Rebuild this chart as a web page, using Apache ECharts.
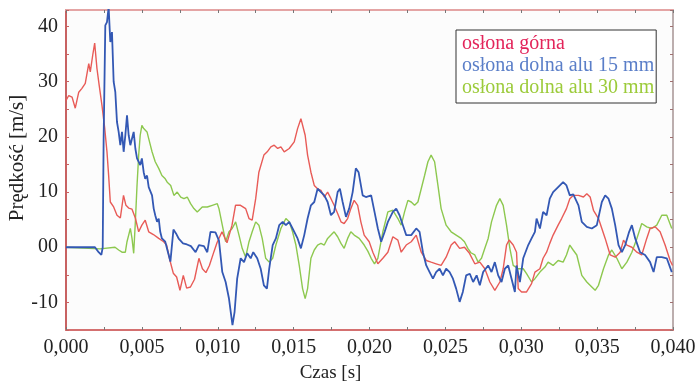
<!DOCTYPE html>
<html><head><meta charset="utf-8">
<script src="https://cdn.jsdelivr.net/npm/echarts@6/dist/echarts.min.js"></script>
<style>html,body{margin:0;padding:0;background:#fff}#c{width:698px;height:384px}</style>
</head><body><div id="c"></div>
<script>
const seriesNames = ['osłona górna', 'osłona dolna alu 15 mm', 'osłona dolna alu 30 mm'];
const yTickLabels = ['-10', '00', '10', '20', '30', '40'];

const redT = [0,0.00018,0.0004,0.00061,0.00084,0.00105,0.00127,0.0015,0.0016,0.00176,0.00189,0.00204,0.00219,0.00237,0.00255,0.0027,0.00281,0.00292,0.00314,0.00336,0.00358,0.00379,0.00395,0.00413,0.00435,0.00457,0.00479,0.005,0.00522,0.00545,0.00576,0.00611,0.00644,0.00663,0.00685,0.00707,0.00729,0.00751,0.00773,0.00795,0.0082,0.00847,0.00876,0.00899,0.00922,0.00945,0.00975,0.00995,0.01028,0.01061,0.01094,0.01117,0.0115,0.01184,0.01206,0.01227,0.0125,0.01271,0.01304,0.01326,0.0135,0.01372,0.01395,0.01416,0.01438,0.01471,0.01504,0.01526,0.01548,0.01559,0.01576,0.01592,0.01614,0.01636,0.01658,0.0168,0.01702,0.01724,0.01746,0.01767,0.0179,0.01812,0.01833,0.01856,0.01877,0.01899,0.01922,0.01943,0.01965,0.01998,0.02022,0.02055,0.02088,0.02121,0.02154,0.02187,0.02209,0.02242,0.02275,0.02308,0.02341,0.02374,0.02406,0.02439,0.02472,0.02505,0.02538,0.02561,0.02594,0.02626,0.02659,0.02694,0.02727,0.0276,0.02793,0.02826,0.02859,0.02881,0.02903,0.0292,0.02947,0.02969,0.0298,0.03002,0.03035,0.03068,0.0309,0.03123,0.03144,0.03167,0.03188,0.0321,0.03243,0.03266,0.03298,0.0332,0.03342,0.03377,0.0341,0.03432,0.03454,0.03476,0.03509,0.03531,0.03553,0.03586,0.03619,0.03652,0.03674,0.03696,0.03729,0.03762,0.03794,0.03827,0.03849,0.03882,0.03915,0.03948,0.03981,0.03997];
const redV = [26.6,27.5,27.2,25.2,28.1,28.8,29.7,33.3,31.8,34.8,37,32.4,29.3,25.7,21.6,17.3,13,8.2,7.3,5.8,5.3,9.4,7.6,7.1,6.9,5.3,2.8,4,4.9,2.8,2.3,1.6,1,0.4,-2.4,-4.7,-5.4,-7.8,-5.1,-7.4,-7.2,-5.8,-2,-3.9,-4.6,-3.3,-0.8,0.8,2.8,0.8,4,7.6,7.6,7,5.2,4.9,8.8,13.6,16.7,17.3,18.2,18.5,17.9,18.2,17.3,17.9,19.1,21.5,23.3,23.6,20.3,16.7,13.6,11.2,10.6,10.3,9.1,10,8.8,7.6,6.1,4.6,4.3,5.2,7,8.5,7.6,4.6,2.2,1,-0.9,-3,-2,-0.9,1.9,1.3,-0.9,0.4,1,2.2,-0.9,-2.4,-2.7,-3,-3.3,-1.8,0.4,1,-0.2,0,-1.1,-3,-2.7,-3.9,-6.3,-7.8,-6.3,-3.9,0.4,1.3,0.4,-0.9,-7.5,-8.1,-8.1,-6.6,-4.5,-3.9,-2,-0.9,0.7,2.2,4,5.2,7,8.8,9.4,9.4,9.1,9.7,9.1,6.7,5.2,3.4,1.6,-1.4,-1.8,-0.9,1.3,0.4,0,-0.9,-1.4,1.6,3.4,3.7,2.8,0.4,-2.4,-3.3];

const blueT = [0,0.00191,0.00215,0.00233,0.00242,0.00248,0.00259,0.0027,0.00281,0.00292,0.00303,0.00314,0.00325,0.00336,0.00347,0.00358,0.00369,0.0038,0.00391,0.00402,0.00413,0.00424,0.00435,0.00446,0.00457,0.00468,0.00479,0.00489,0.005,0.00512,0.00522,0.00534,0.00545,0.00555,0.00567,0.00578,0.00588,0.006,0.00611,0.00621,0.00632,0.00654,0.00672,0.00688,0.00708,0.00725,0.00744,0.00771,0.00797,0.00823,0.00854,0.00876,0.00909,0.00931,0.00952,0.00985,0.01008,0.0103,0.01052,0.01074,0.01097,0.01111,0.01128,0.01151,0.01173,0.01194,0.01217,0.01234,0.0126,0.01283,0.01304,0.01324,0.01339,0.01362,0.01383,0.01405,0.01428,0.01449,0.01471,0.01493,0.01526,0.01548,0.0157,0.01592,0.01614,0.01636,0.01658,0.0168,0.01702,0.01724,0.01746,0.01767,0.0179,0.01805,0.01823,0.01845,0.01866,0.01889,0.0191,0.01928,0.01955,0.01976,0.02011,0.02033,0.02055,0.02077,0.021,0.02121,0.02154,0.02176,0.02198,0.0222,0.02242,0.02275,0.02308,0.0233,0.02352,0.02374,0.02396,0.02418,0.02439,0.02462,0.02484,0.02505,0.02528,0.0255,0.02571,0.02594,0.02615,0.02637,0.02661,0.02683,0.02706,0.02727,0.02749,0.02782,0.02804,0.02826,0.02848,0.0287,0.02892,0.02914,0.02936,0.02958,0.02969,0.02991,0.03013,0.03046,0.03068,0.0309,0.03101,0.03123,0.03144,0.03167,0.03188,0.0321,0.03243,0.03276,0.03298,0.0332,0.03343,0.03377,0.03399,0.03432,0.03465,0.03498,0.03531,0.03553,0.03575,0.03597,0.03619,0.03641,0.03663,0.03685,0.03711,0.03729,0.03751,0.03783,0.03816,0.03849,0.03872,0.03893,0.03926,0.03959,0.03992];
const blueV = [0,0,-0.9,-1.4,0,19.7,40.2,40.8,43.5,37.2,39,30,28.1,22.7,20.9,18.5,20.9,17.3,20.3,23.9,20.3,18.5,19.7,20.9,17.9,16.1,15.5,14.9,16.1,13.6,12.4,13,10.9,11.2,9.4,7,5.8,4.6,5.2,2.8,1.6,1,-0.9,-2.6,3.2,2.5,1.5,0.7,0.5,0.2,-0.9,0.4,0.2,-0.9,2.8,2.7,1.2,-4.5,-6.3,-9.3,-14.1,-11.7,-5.7,-2,-2.7,-1.1,-2,-0.9,-2,-3.9,-6.9,-7.5,-3.9,0.4,1.6,4,4.6,4,4.6,3.4,1.6,-0.2,2.2,5.2,7.6,8.2,10.6,10,9.4,8.2,5.8,6.4,10,10.6,8.2,5.5,7,10,14.3,13.6,9.4,9.1,9.4,6.4,3.4,1,2.8,4.6,6.4,7,5.8,4,2.2,2.2,3.4,2.8,-0.9,-3.3,-4.5,-5.7,-4.5,-3.9,-5.1,-3.9,-4.5,-5.7,-7.5,-9.9,-8.1,-5.1,-4.8,-6.3,-5.1,-6.9,-4.5,-3.3,-4.5,-2.7,-5.1,-6.3,-3.9,-3.3,-5.7,-8.1,-3.3,-6.3,-2,0.4,1.6,2.8,5.2,3.4,6.4,5.8,8.8,10,10.9,11.8,11.2,9.4,9.6,7.6,4.6,3.7,3.4,4,8.2,9.4,8.8,7,4,0.4,-0.9,0.4,2.8,4,1.6,-0.9,-1.4,-2.7,-4.5,-1.8,-1.8,-2,-4.5];

const greenT = [0,0.00224,0.00323,0.00347,0.00369,0.00391,0.00402,0.00413,0.00424,0.00435,0.00446,0.00457,0.00468,0.00479,0.00489,0.005,0.00512,0.00522,0.00534,0.00545,0.00567,0.00588,0.00611,0.00632,0.00654,0.00667,0.0069,0.00711,0.00733,0.00756,0.00777,0.00799,0.00821,0.00843,0.00865,0.00898,0.00931,0.00964,0.00997,0.01008,0.0103,0.01052,0.01074,0.01095,0.01118,0.0114,0.01161,0.01184,0.01206,0.01227,0.0125,0.01271,0.01293,0.01316,0.01339,0.01362,0.01383,0.01416,0.01449,0.01471,0.01493,0.01515,0.01537,0.01559,0.01576,0.01592,0.01614,0.01636,0.01658,0.0168,0.01702,0.01724,0.01746,0.01767,0.0179,0.01812,0.01833,0.01856,0.01877,0.01899,0.01932,0.01965,0.01989,0.02011,0.02033,0.02055,0.02088,0.02121,0.02154,0.02187,0.02209,0.02231,0.02253,0.02275,0.02297,0.02319,0.02341,0.02363,0.02385,0.02406,0.02429,0.02451,0.02472,0.02505,0.02538,0.02571,0.02604,0.02626,0.02648,0.02668,0.02694,0.02716,0.02738,0.0276,0.02782,0.02804,0.02837,0.02859,0.02881,0.02903,0.02925,0.02947,0.0298,0.03013,0.03035,0.03068,0.0309,0.03123,0.03156,0.03177,0.0321,0.03243,0.03276,0.03298,0.0332,0.03342,0.03366,0.03399,0.03432,0.03465,0.03487,0.03509,0.03542,0.03575,0.03597,0.0363,0.03663,0.03696,0.03729,0.03762,0.03794,0.03827,0.0386,0.03893,0.03926,0.03959,0.03992];
const greenV = [0,-0.3,0,-0.5,-0.9,-0.9,1,2.2,3.4,1.6,-1.1,4.6,11.2,16.7,20.3,22.1,21.5,21.5,20.9,19.7,17.3,15.5,14.3,13,12.4,11.8,11.2,9.4,10,9.1,8.8,9.1,7.9,7,6.4,7.3,7.3,7.6,7.9,7,4,1,2.8,3.4,4.6,2.2,-0.2,-1.8,1,2.8,4.6,4,1.6,-2,-2.7,-2,0.4,3.4,5.2,4.6,2.8,0.4,-3.3,-7.5,-9.3,-7.5,-2,-0.5,0.4,0.7,0.4,1.6,2.2,2.8,1.9,0.7,-0.2,1.6,2.8,2.2,1.6,0.4,-0.7,-2,-3,-2,2.8,6.4,6.7,5.2,4,6.4,8.5,8.2,7.6,8.2,10.6,13,15.5,16.7,15.5,11.2,7,4,2.8,2.2,1.6,1,-0.2,-1,-1.4,-2.7,-2,-0.2,1.6,4.6,7.6,8.8,7.6,4,-0.2,-3.3,-3.9,-3.9,-4.8,-6.3,-5.7,-4.5,-3.6,-2.7,-3.3,-2.4,-2.7,-1.4,0.4,-0.5,-1.4,-5.1,-6.3,-7.2,-7.8,-6.9,-3.9,-1.4,-0.5,-2,-3.9,-2.7,-0.9,1.6,4.3,3.7,3.4,4,5.8,5.8,3.4];

const pair = (t, v) => t.map((x, i) => [x, v[i]]);
const FONT = 'Liberation Serif';
const lineColors = ['#e85b57', '#3358b4', '#8dc84f'];
const textColors = ['#e3245a', '#5a7ec8', '#9ccb3a'];

const chart = echarts.init(document.getElementById('c'));
chart.setOption({
  animation: false,
  backgroundColor: '#ffffff',
  grid: {left: 66, right: 25, top: 10, bottom: 54, show: true, backgroundColor: '#fcfcfc', borderWidth: 0,
         containLabel: false, outerBoundsMode: 'none'},
  legend: {
    orient: 'vertical', left: 456, top: 30,
    backgroundColor: '#ffffff', borderColor: '#333333', borderWidth: 1,
    padding: [4, 2, 5, 1], itemGap: 2, itemWidth: 0, itemHeight: 0, icon: 'none',
    textStyle: {fontFamily: FONT, fontSize: 20},
    data: seriesNames.map((n, i) => ({name: n, textStyle: {color: textColors[i]}}))
  },
  xAxis: [{
    type: 'value', min: 0, max: 0.04, interval: 0.0025,
    name: 'Czas [s]', nameLocation: 'middle', nameGap: 34, nameMoveOverlap: false,
    nameTextStyle: {fontFamily: FONT, fontSize: 19, color: '#222', padding: [0, 78, 0, 0]},
    axisLine: {onZero: false, lineStyle: {color: '#d47070', width: 2}},
    axisTick: {inside: true, length: 3, lineStyle: {color: '#777', width: 1}},
    splitLine: {show: false},
    axisLabel: {fontFamily: FONT, fontSize: 20, color: '#222', margin: 8,
      formatter: v => (Math.round(v * 10000) % 50 === 0) ? v.toFixed(3).replace('.', ',') : ''}
  }, {
    type: 'value', position: 'top', min: 0, max: 0.04, interval: 0.0025,
    axisLine: {onZero: false, lineStyle: {color: '#e4a4a4', width: 2}},
    axisTick: {inside: true, length: 3, lineStyle: {color: '#777'}},
    axisLabel: {show: false}, splitLine: {show: false}
  }],
  yAxis: [{
    type: 'value', min: -15, max: 43, interval: 5,
    name: 'Prędkość [m/s]', nameLocation: 'middle', nameGap: 38, nameRotate: 90, nameMoveOverlap: false,
    nameTextStyle: {fontFamily: FONT, fontSize: 21, color: '#222', padding: [0, 0, 0, 24]},
    axisLine: {show: true, onZero: false, lineStyle: {color: '#c86262', width: 2}},
    axisTick: {inside: true, length: 3, lineStyle: {color: '#c86262'}},
    splitLine: {show: false},
    axisLabel: {fontFamily: FONT, fontSize: 20, color: '#222', margin: 8,
      formatter: v => {
        if (Math.round(v) % 10 !== 0 || v > 40) return '';
        const idx = Math.round(v / 10) + 1;
        return yTickLabels[idx] || '';
      }}
  }, {
    type: 'value', position: 'right', min: -15, max: 43, interval: 5,
    axisLine: {show: true, onZero: false, lineStyle: {color: '#bcaeae', width: 2}},
    axisTick: {inside: true, length: 3, lineStyle: {color: '#a07070'}},
    axisLabel: {show: false}, splitLine: {show: false}
  }],
  series: seriesNames.map((n, i) => ({
    name: n, type: 'line', showSymbol: false, symbol: 'none',
    z: [3, 4, 2][i],
    lineStyle: {color: lineColors[i], width: i === 1 ? 1.8 : 1.4},
    itemStyle: {color: lineColors[i]},
    data: [pair(redT, redV), pair(blueT, blueV), pair(greenT, greenV)][i]
  }))
});
</script></body></html>
